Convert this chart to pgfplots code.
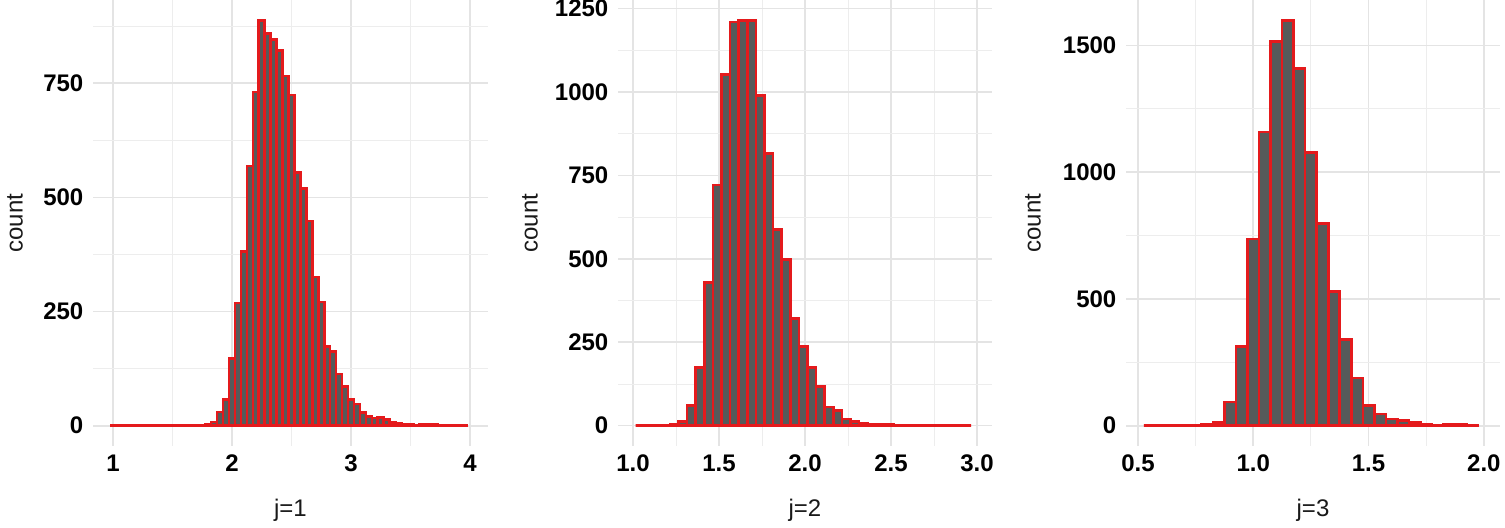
\documentclass[border=0pt]{standalone}
\usepackage{pgfplots}
\usepackage{pgfplotstable}
\pgfplotsset{compat=1.18}
\usepackage{fontspec}
\setmainfont{Liberation Sans}

\definecolor{barred}{RGB}{228,26,28}
\definecolor{barfill}{RGB}{86,90,90}
\definecolor{gridmaj}{RGB}{228,228,228}
\definecolor{gridmin}{RGB}{237,237,237}

% left bin edges and counts (last row = right edge of final bin)
\pgfplotstableread{
x y
0.975 0
1.025 0
1.075 0
1.125 0
1.175 0
1.225 0
1.275 0
1.325 0
1.375 0
1.425 0
1.475 0
1.525 0
1.575 0
1.625 1
1.675 1
1.725 2
1.775 4
1.825 8
1.875 30
1.925 57
1.975 147
2.025 269
2.075 382
2.125 569
2.175 731
2.225 888
2.275 859
2.325 846
2.375 822
2.425 766
2.475 724
2.525 554
2.575 520
2.625 448
2.675 326
2.725 271
2.775 174
2.825 163
2.875 113
2.925 86
2.975 57
3.025 48
3.075 29
3.125 20
3.175 17
3.225 18
3.275 13
3.325 7
3.375 6
3.425 4
3.475 3
3.525 2
3.575 3
3.625 3
3.675 3
3.725 2
3.775 1
3.825 1
3.875 1
3.925 1
3.975 1
}\histA

\pgfplotstableread{
x y
1.015 0
1.065 0
1.115 0
1.165 1
1.215 5
1.265 13
1.315 61
1.365 175
1.415 430
1.465 721
1.515 1053
1.565 1210
1.615 1215
1.665 1215
1.715 990
1.765 815
1.815 588
1.865 498
1.915 321
1.965 238
2.015 175
2.065 118
2.115 56
2.165 45
2.215 20
2.265 13
2.315 8
2.365 5
2.415 3
2.465 3
2.515 2
2.565 2
2.615 1
2.665 1
2.715 0
2.765 1
2.815 0
2.865 1
2.915 0
2.965 0
}\histB

\pgfplotstableread{
x y
0.525 0
0.575 0
0.625 0
0.675 1
0.725 1
0.775 4
0.825 13
0.875 93
0.925 313
0.975 737
1.025 1159
1.075 1515
1.125 1599
1.175 1408
1.225 1077
1.275 797
1.325 530
1.375 340
1.425 188
1.475 80
1.525 46
1.575 26
1.625 20
1.675 13
1.725 4
1.775 2
1.825 5
1.875 5
1.925 2
1.975 2
}\histC

\pgfplotsset{
  histaxis/.style={
    scale only axis,
    anchor=south west,
    height=223pt,
    axis line style={draw=none},
    tick style={draw=none},
    grid=both,
    major grid style={draw=gridmaj, line width=0.8pt},
    minor grid style={draw=gridmin, line width=0.45pt},
    tick label style={font=\fontsize{12}{14}\selectfont\bfseries, text=black},
    /pgf/number format/assume math mode=true,
    /pgf/number format/1000 sep={},
    scaled ticks=false,
    label style={font=\fontsize{12}{14}\selectfont, text=black!90},
    xticklabel style={yshift=-0.9pt},
    yticklabel style={xshift=-1.3pt},
    xlabel style={at={(axis description cs:0.5,0)}, anchor=center, yshift=-32pt},
  },
  histbars/.style={ybar interval, fill=barfill, draw=barred, line width=1.3pt},
}

\begin{document}
\begin{tikzpicture}
\path[use as bounding box] (0,0) rectangle (752.5pt,263.5pt);

\begin{axis}[histaxis,
  at={(46.5pt,40.5pt)}, width=197.5pt,
  xmin=0.832, xmax=4.151, ymin=-44.4, ymax=932.4,
  xtick={1,2,3,4}, minor xtick={1.5,2.5,3.5},
  ytick={0,250,500,750}, minor ytick={125,375,625,875},
  xlabel={j=1}, ylabel={count},
  ylabel style={at={(axis description cs:-0.1975,0.5)}, anchor=center},
]
\addplot[histbars] table[x=x,y=y] {\histA};
\end{axis}

\begin{axis}[histaxis,
  at={(309pt,40.5pt)}, width=187pt,
  xmin=0.913, xmax=3.087, ymin=-61, ymax=1276,
  xtick={1,1.5,2,2.5,3}, xticklabels={1.0,1.5,2.0,2.5,3.0},
  minor xtick={1.25,1.75,2.25,2.75},
  ytick={0,250,500,750,1000,1250}, minor ytick={125,375,625,875,1125},
  xlabel={j=2}, ylabel={count},
  ylabel style={at={(axis description cs:-0.2353,0.5)}, anchor=center},
]
\addplot[histbars] table[x=x,y=y] {\histB};
\end{axis}

\begin{axis}[histaxis,
  at={(563pt,40.5pt)}, width=187pt,
  xmin=0.448, xmax=2.07, ymin=-80, ymax=1679,
  xtick={0.5,1,1.5,2}, xticklabels={0.5,1.0,1.5,2.0},
  minor xtick={0.75,1.25,1.75},
  ytick={0,500,1000,1500}, minor ytick={250,750,1250},
  xlabel={j=3}, ylabel={count},
  ylabel style={at={(axis description cs:-0.2487,0.5)}, anchor=center},
]
\addplot[histbars] table[x=x,y=y] {\histC};
\end{axis}
\end{tikzpicture}
\end{document}
